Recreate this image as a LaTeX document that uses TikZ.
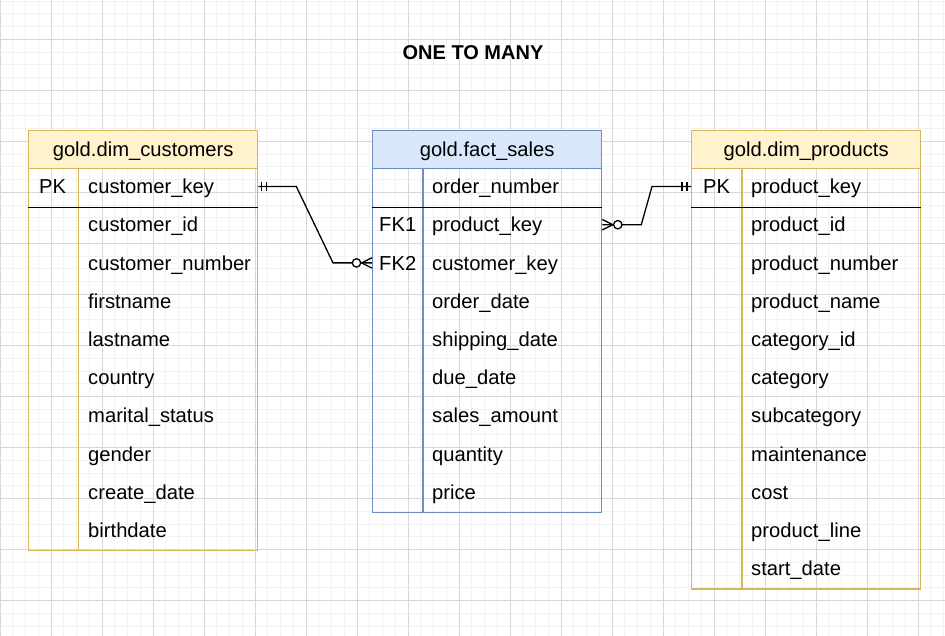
\documentclass[tikz,border=0pt]{standalone}
\usepackage{fontspec}
\setmainfont{Liberation Sans}
\definecolor{gridminor}{RGB}{242,242,242}
\definecolor{gridmajor}{RGB}{216,216,216}
\definecolor{yfill}{HTML}{FFF2CC}
\definecolor{ystroke}{HTML}{D6B656}
\definecolor{bfill}{HTML}{DAE8FC}
\definecolor{bstroke}{HTML}{6C8EBF}
\begin{document}
\begin{tikzpicture}[x=1pt,y=-1pt,
  tbl/.style={draw=#1, line width=1.3pt, inner sep=0pt, anchor=north west, minimum width=229pt},
  hdr/.style={draw=#1, line width=1.3pt, inner sep=0pt, anchor=north west, minimum width=229pt, minimum height=38pt},
  txt/.style={inner sep=0pt, font=\fontsize{20.2}{24}\selectfont, text height=14.5pt, text depth=0pt},
  fld/.style={txt, anchor=west},
  conn/.style={line width=1.3pt, black},
  ermark/.style={line width=1.3pt, black},
]
\useasboundingbox (0,0) rectangle (945,636);
\fill[white] (0,0) rectangle (945,636);
% grid
\foreach \i in {1,...,74} \draw[gridminor, line width=1pt] (12.75*\i,0) -- (12.75*\i,636);
\foreach \i in {1,...,50} \draw[gridminor, line width=1pt] (0,-11.5+12.75*\i) -- (945,-11.5+12.75*\i);
\foreach \i in {0,...,18} \draw[gridmajor, line width=1pt] (51*\i+0.5,0) -- (51*\i+0.5,636);
\foreach \i in {0,...,11} \draw[gridmajor, line width=1pt] (0,39.5+51*\i) -- (945,39.5+51*\i);

% title
\node[txt, font=\fontsize{20}{24}\selectfont\bfseries] (title) at (473,52) {ONE TO MANY};

% ---------- customers ----------
\node[tbl=ystroke, minimum height=420pt] (cust) at (28,130) {};
\node[hdr=ystroke, fill=yfill] (custh) at (28,130) {};
\node[txt] (custt) at (custh.center) {gold.dim\_customers};
\draw[ystroke, line width=1.3pt] ([xshift=50.5pt]custh.south west) -- ([xshift=50.5pt]cust.south west);
\draw[black, line width=1.3pt] ([yshift=-38.2pt]custh.south west) -- ([yshift=-38.2pt]custh.south east);
\node[fld] (cpk) at (39,186.5) {PK};
\foreach \t [count=\i from 0] in {customer\_key,customer\_id,customer\_number,firstname,lastname,country,marital\_status,gender,create\_date,birthdate}
  \node[fld] (c\i) at (88,186.5+38.2*\i) {\t};

% ---------- fact sales ----------
\node[tbl=bstroke, minimum height=382pt] (fact) at (372,130) {};
\node[hdr=bstroke, fill=bfill] (facth) at (372,130) {};
\node[txt] (factt) at (facth.center) {gold.fact\_sales};
\draw[bstroke, line width=1.3pt] ([xshift=51pt]facth.south west) -- ([xshift=51pt]fact.south west);
\draw[black, line width=1.3pt] ([yshift=-38.2pt]facth.south west) -- ([yshift=-38.2pt]facth.south east);
\node[fld] (fk1) at (379,224.7) {FK1};
\node[fld] (fk2) at (379,262.9) {FK2};
\foreach \t [count=\i from 0] in {order\_number,product\_key,customer\_key,order\_date,shipping\_date,due\_date,sales\_amount,quantity,price}
  \node[fld] (f\i) at (432,186.5+38.2*\i) {\t};

% ---------- products ----------
\node[tbl=ystroke, minimum height=458.2pt] (prod) at (691,130) {};
\node[hdr=ystroke, fill=yfill] (prodh) at (691,130) {};
\node[txt] (prodt) at (prodh.center) {gold.dim\_products};
\draw[ystroke, line width=1.3pt] ([xshift=51pt]prodh.south west) -- ([xshift=51pt]prod.south west);
\draw[black, line width=1.3pt] ([yshift=-38.2pt]prodh.south west) -- ([yshift=-38.2pt]prodh.south east);
\node[fld] (ppk) at (703,186.5) {PK};
\foreach \t [count=\i from 0] in {product\_key,product\_id,product\_number,product\_name,category\_id,category,subcategory,maintenance,cost,product\_line,start\_date}
  \node[fld] (p\i) at (751,186.5+38.2*\i) {\t};

% ---------- connector customers -> fact ----------
\coordinate (a1) at (cust.east |- c0);
\coordinate (a2) at (fact.west |- f2);
\draw[conn] (a1) -- ([xshift=38pt]a1) -- ([xshift=-39pt]a2) -- (a2);
\draw[ermark] ([xshift=3.5pt,yshift=4.2pt]a1) -- ([xshift=3.5pt,yshift=-4.2pt]a1);
\draw[ermark] ([xshift=8.5pt,yshift=4.2pt]a1) -- ([xshift=8.5pt,yshift=-4.2pt]a1);
\draw[ermark] ([xshift=-10.5pt]a2) -- ([yshift=5.2pt]a2);
\draw[ermark] ([xshift=-10.5pt]a2) -- ([yshift=-5.2pt]a2);
\draw[ermark, fill=white] ([xshift=-15.5pt]a2) circle (4.2pt);

% ---------- connector fact -> products ----------
\coordinate (b1) at (fact.east |- f1);
\coordinate (b2) at (prod.west |- p0);
\draw[conn] (b1) -- ([xshift=39pt]b1) -- ([xshift=-39pt]b2) -- (b2);
\draw[ermark] ([xshift=10.5pt]b1) -- ([yshift=5.2pt]b1);
\draw[ermark] ([xshift=10.5pt]b1) -- ([yshift=-5.2pt]b1);
\draw[ermark, fill=white] ([xshift=15.5pt]b1) circle (4.2pt);
\draw[ermark] ([xshift=-9pt,yshift=4.2pt]b2) -- ([xshift=-9pt,yshift=-4.2pt]b2);
\draw[ermark] ([xshift=-4pt,yshift=4.2pt]b2) -- ([xshift=-4pt,yshift=-4.2pt]b2);
\end{tikzpicture}
\end{document}
